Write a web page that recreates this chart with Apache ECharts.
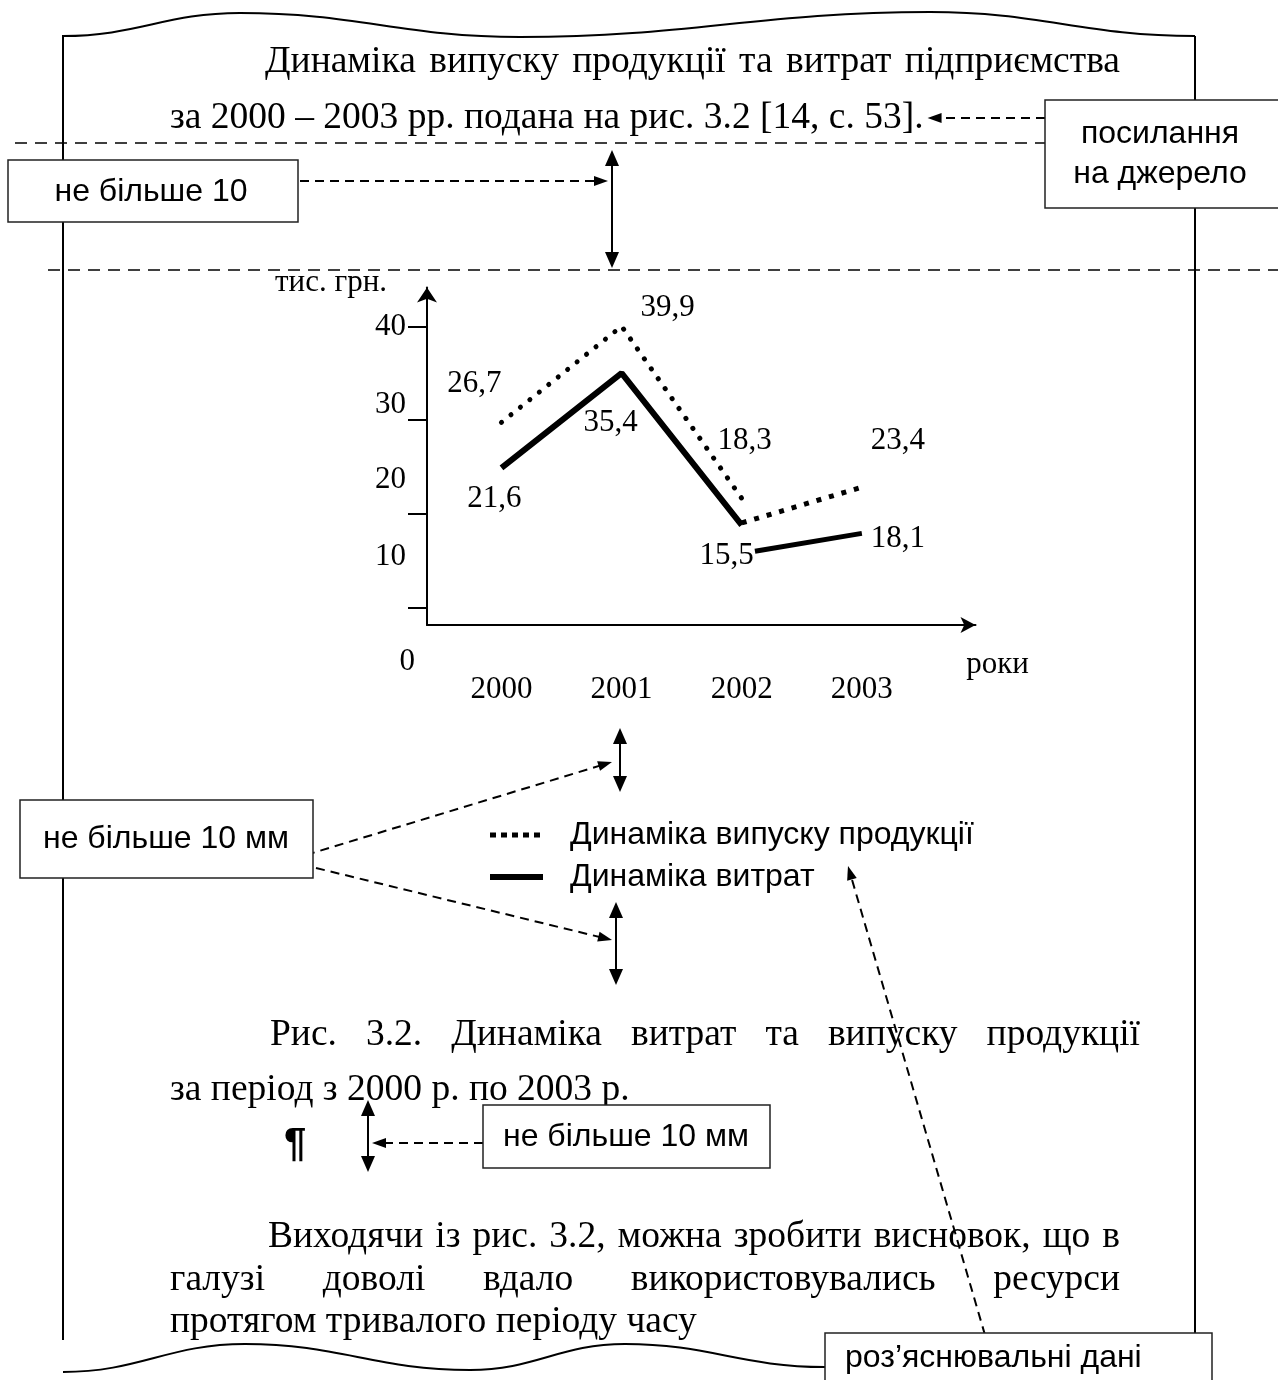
<!DOCTYPE html>
<html><head><meta charset="utf-8">
<script src="https://cdn.jsdelivr.net/npm/echarts@6/dist/echarts.min.js"></script>
<style>html,body{margin:0;padding:0;background:#fff}#c{width:1278px;height:1380px}</style>
</head><body><div id="c"></div>
<script>
// ---------- data ----------
const years = [2000, 2001, 2002, 2003];
const yearLabels = ['2000', '2001', '2002', '2003'];
const yTickLabels = [0, 10, 20, 30, 40];
const yTickMarks = [2.3, 14.9, 27.5, 40];
const outputName = 'Динаміка випуску продукції';
const costName = 'Динаміка витрат';
const outputMain = [27.2, 40.1, 17.0];            // 2000, 2001, 2002 (dotted)
const outputTail = [[2002, 13.7], [2003, 18.5]];  // square-dotted piece
const costMain = [21.1, 33.8, 13.4];              // 2000, 2001, 2002 (solid)
const costTail = [[2002.11, 9.9], [2003, 12.3]];  // detached solid piece
const outputLabels = ['26,7', '39,9', '18,3', '23,4'];
const costLabels = ['21,6', '35,4', '15,5', '18,1'];
const yAxisName = 'тис. грн.';
const xAxisName = 'роки';

// label offsets (style, px)
const outputLabelOffsets = [[-27, -38], [46, -18], [3, -57], [36, -46]];
const costLabelOffsets = [[-7, 31], [-11, 50], [-15, 31], [36, 5]];
// vertical nudges of the y tick labels (style, px of padding)
const yLabelPad = [[74, 0, 0, 0], [13, 9, 0, 0], [8, 9, 0, 0], [7, 9, 0, 0], [0, 9, 0, 0]];

const SERIF = '"Liberation Serif", "Times New Roman", serif';
const SANS = '"Liberation Sans", Arial, sans-serif';

// ---------- helpers for the page decoration ----------
const mctx = document.createElement('canvas').getContext('2d');
function tw(t, size, fam) { mctx.font = size + 'px ' + fam; return mctx.measureText(t).width; }
function txt(text, x, y, size, fam, align, weight) {
  return { type: 'text', x: x, y: y, silent: true,
    style: { text: text, font: (weight ? weight + ' ' : '') + size + 'px ' + fam, fill: '#000', align: align || 'left', verticalAlign: 'middle' } };
}
function justify(line, x0, x1, y, size, fam) {
  const words = line.split(' ');
  const ws = words.map(w => tw(w, size, fam));
  const gap = (x1 - x0 - ws.reduce((a, b) => a + b, 0)) / (words.length - 1);
  let x = x0; const out = [];
  words.forEach((w, i) => { out.push(txt(w, x, y, size, fam)); x += ws[i] + gap; });
  return out;
}
function ln(x1, y1, x2, y2, w, dash) {
  return { type: 'line', silent: true, shape: { x1, y1, x2, y2 },
    style: { stroke: '#000', lineWidth: w, lineDash: dash || null } };
}
function head(x, y, a, len, wid) {
  const bx = x - len * Math.cos(a), by = y - len * Math.sin(a);
  const nx = -Math.sin(a) * wid / 2, ny = Math.cos(a) * wid / 2;
  return { type: 'polygon', silent: true, shape: { points: [[x, y], [bx + nx, by + ny], [bx - nx, by - ny]] }, style: { fill: '#000' } };
}
function dashedArrow(x1, y1, x2, y2) {
  const a = Math.atan2(y2 - y1, x2 - x1);
  return [ln(x1, y1, x2 - 10 * Math.cos(a), y2 - 10 * Math.sin(a), 2, [9, 6]), head(x2, y2, a, 14, 10)];
}
function dblArrow(x, y1, y2) {
  return [ln(x, y1 + 10, x, y2 - 10, 2), head(x, y1, -Math.PI / 2, 16, 14), head(x, y2, Math.PI / 2, 16, 14)];
}
function box(x, y, w, h) {
  return { type: 'rect', silent: true, shape: { x, y, width: w, height: h }, style: { fill: '#fff', stroke: '#222', lineWidth: 1.5 } };
}
function wave(pts) {
  const out = [];
  for (let i = 0; i < pts.length - 1; i++) {
    const [x0, y0] = pts[i], [x1, y1] = pts[i + 1], d = (x1 - x0) * 0.42;
    out.push({ type: 'bezierCurve', silent: true,
      shape: { x1: x0, y1: y0, x2: x1, y2: y1, cpx1: x0 + d, cpy1: y0, cpx2: x1 - d, cpy2: y1 },
      style: { stroke: '#000', lineWidth: 2, fill: null } });
  }
  return out;
}

const title1 = 'Динаміка випуску продукції та витрат підприємства';
const title2 = 'за 2000 – 2003 рр. подана на рис. 3.2 [14, с. 53].';
const BF = 37.5;   // body text (Times)
const CF = 31;     // chart text (Times)
const AF = 32;     // callout text (Arial)
const RM = 1120;   // right margin of the body text
const t2end = 170 + tw(title2, BF, SERIF);

let g = [];
// page borders
g.push(ln(63, 35, 63, 1340, 2));
g.push(ln(1195, 36, 1195, 1335, 2));
g = g.concat(wave([[63, 36], [240, 13], [520, 37], [930, 12], [1195, 36]]));
g = g.concat(wave([[63, 1372], [245, 1344], [470, 1370], [625, 1344], [825, 1367]]));
// dashed guide lines
g.push(ln(15, 143, 1278, 143, 1.5, [12, 8]));
g.push(ln(48, 270, 1278, 270, 1.5, [12, 8]));
// text
g = g.concat(justify(title1, 265, RM, 62, BF, SERIF));
g.push(txt(title2, 170, 118, BF, SERIF));
g = g.concat(justify('Рис. 3.2. Динаміка витрат та випуску продукції', 270, 1140, 1035, BF, SERIF));
g.push(txt('за період з 2000 р. по 2003 р.', 170, 1090, BF, SERIF));
g = g.concat(justify('Виходячи із рис. 3.2, можна зробити висновок, що в', 268, RM, 1237, BF, SERIF));
g = g.concat(justify('галузі доволі вдало використовувались ресурси', 170, RM, 1280, BF, SERIF));
g.push(txt('протягом тривалого періоду часу', 170, 1322, BF, SERIF));
g.push(txt('¶', 295, 1145, 40, SANS, 'center', 'bold'));
// arrows
g = g.concat(dashedArrow(1045, 118, t2end + 4, 118));
g = g.concat(dashedArrow(300, 181, 608, 181));
g = g.concat(dblArrow(612, 150, 268));
g = g.concat(dblArrow(620, 728, 792));
g = g.concat(dashedArrow(306, 855, 612, 762));
g = g.concat(dashedArrow(316, 868, 612, 940));
g = g.concat(dblArrow(616, 902, 985));
g = g.concat(dashedArrow(985, 1335, 848, 866));
g = g.concat(dblArrow(368, 1100, 1172));
g = g.concat(dashedArrow(483, 1143, 372, 1143));
// boxes
g.push(box(1045, 100, 240, 108));
g.push(txt('посилання', 1160, 134, AF, SANS, 'center'));
g.push(txt('на джерело', 1160, 174, AF, SANS, 'center'));
g.push(box(8, 160, 290, 62));
g.push(txt('не більше 10', 151, 192, AF, SANS, 'center'));
g.push(box(20, 800, 293, 78));
g.push(txt('не більше 10 мм', 166, 839, AF, SANS, 'center'));
g.push(box(483, 1105, 287, 63));
g.push(txt('не більше 10 мм', 626, 1137, AF, SANS, 'center'));
g.push(box(825, 1333, 387, 60));
g.push(txt('роз’яснювальні дані', 845, 1358, AF, SANS, 'left'));

// ---------- series ----------
const lblBase = { show: true, position: 'inside', fontFamily: SERIF, fontSize: CF, color: '#000' };
function items(points, labels, offs, labelIdx) {
  return points.map((p, i) => {
    const it = { value: p };
    const li = labelIdx[i];
    if (li != null) it.label = Object.assign({}, lblBase, { formatter: labels[li], offset: offs[li] });
    return it;
  });
}
const symbolCommon = { symbol: 'circle', symbolSize: 1, showSymbol: true, itemStyle: { color: 'rgba(0,0,0,0)' },
  label: { show: false }, silent: true, emphasis: { disabled: true }, z: 3 };

const series = [
  Object.assign({ type: 'line', name: outputName,
    data: items(outputMain.map((v, i) => [years[i], v]), outputLabels, outputLabelOffsets, [0, 1, 2]),
    lineStyle: { color: '#000', width: 5, type: [0.1, 12], cap: 'round' } }, symbolCommon),
  Object.assign({ type: 'line', name: outputName,
    data: items(outputTail, outputLabels, outputLabelOffsets, [null, 3]),
    lineStyle: { color: '#000', width: 5, type: [5, 8], cap: 'butt' } }, symbolCommon),
  Object.assign({ type: 'line', name: costName,
    data: items(costMain.map((v, i) => [years[i], v]), costLabels, costLabelOffsets, [0, 1, 2]),
    lineStyle: { color: '#000', width: 6, type: 'solid' } }, symbolCommon),
  Object.assign({ type: 'line', name: costName,
    data: items(costTail, costLabels, costLabelOffsets, [null, 3]),
    lineStyle: { color: '#000', width: 5, type: 'solid' } }, symbolCommon)
];

const yRich = {};
yTickLabels.forEach((v, i) => { yRich['r' + i] = { fontFamily: SERIF, fontSize: CF, color: '#000', padding: yLabelPad[i] }; });

const option = {
  animation: false,
  backgroundColor: '#fff',
  grid: { left: 427, right: 302.5, top: 287.5, bottom: 755, containLabel: false },
  xAxis: {
    type: 'value', min: 1999.38, max: 2003.946,
    name: xAxisName, nameLocation: 'end', nameGap: 22,
    nameTextStyle: { fontFamily: SERIF, fontSize: CF, color: '#000', align: 'center', verticalAlign: 'top', padding: [24, 0, 0, 0] },
    axisLine: { show: true, symbol: ['none', 'arrow'], symbolSize: [12, 15], lineStyle: { color: '#000', width: 2 } },
    axisTick: { show: false },
    splitLine: { show: false },
    axisLabel: { customValues: years, margin: 49, fontFamily: SERIF, fontSize: CF, color: '#000',
      formatter: v => yearLabels[years.indexOf(Math.round(v))] }
  },
  yAxis: {
    type: 'value', min: 0, max: 45.3,
    name: yAxisName, nameLocation: 'end', nameGap: 5,
    nameTextStyle: { fontFamily: SERIF, fontSize: CF, color: '#000', align: 'right', verticalAlign: 'middle', padding: [0, 40, 0, 0] },
    axisLine: { show: true, symbol: ['none', 'arrow'], symbolSize: [15, 15], lineStyle: { color: '#000', width: 2 } },
    axisTick: { show: true, customValues: yTickMarks, length: 19, lineStyle: { color: '#000', width: 2 } },
    splitLine: { show: false },
    axisLabel: { customValues: yTickLabels, margin: 12, color: '#000',
      formatter: v => '{r' + yTickLabels.indexOf(Math.round(v)) + '|' + Math.round(v) + '}',
      rich: yRich }
  },
  legend: {
    orient: 'vertical', left: 487, top: 819, padding: 0, itemWidth: 53, itemHeight: 14, itemGap: 10,
    selectedMode: false,
    textStyle: { fontFamily: SANS, fontSize: AF, color: '#000', padding: [0, 0, 0, 22] },
    data: [
      { name: outputName, lineStyle: { color: '#000', width: 5, type: [6, 5], cap: 'butt' }, itemStyle: { color: 'rgba(0,0,0,0)' } },
      { name: costName, lineStyle: { color: '#000', width: 6, type: 'solid' }, itemStyle: { color: 'rgba(0,0,0,0)' } }
    ]
  },
  graphic: { elements: g },
  series: series
};
const chart = echarts.init(document.getElementById('c'), null, { renderer: 'canvas', width: 1278, height: 1380 });
chart.setOption(option);
</script>
</body></html>
